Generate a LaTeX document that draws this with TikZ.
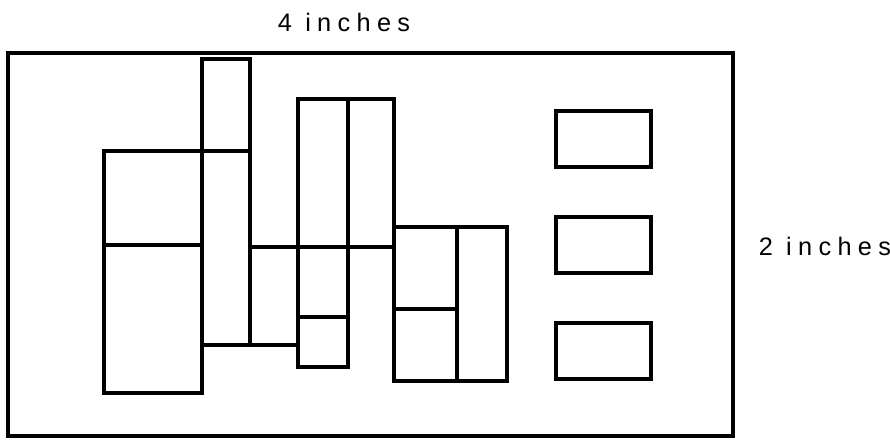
\documentclass[tikz,border=0pt]{standalone}
\usepackage{fontspec}
\setmainfont{Liberation Sans}
\usepackage{tikz}

\begin{document}
\begin{tikzpicture}[x=0.025cm, y=-0.025cm, line width=2.5pt,
    dim/.style={font=\fontsize{18}{20}\selectfont\addfontfeature{LetterSpace=25}}]
        \useasboundingbox (0, 0) rectangle (890, 440);
        \draw (8, 53) rectangle (733, 436);
        % left block
        \draw (104, 151) rectangle (202, 393);
        \draw (104, 245) -- (202, 245);
        \draw (202, 59) rectangle (250, 345);
        \draw (202, 151) -- (250, 151);
        \draw (250, 247) rectangle (298, 345);
        % middle block
        \draw (298, 99) rectangle (348, 367);
        \draw (298, 247) -- (348, 247);
        \draw (298, 317) -- (348, 317);
        \draw (348, 99) rectangle (394, 247);
        \draw (394, 227) rectangle (507, 381);
        \draw (457, 227) -- (457, 381);
        \draw (394, 309) -- (457, 309);
        % right column
        \draw (556, 111) rectangle (651, 167);
        \draw (556, 217) rectangle (651, 273);
        \draw (556, 323) rectangle (651, 379);
        \node (width) at (344, 22) [dim] {4 inches};
        \node (height) at (757, 246) [dim, anchor=west, inner sep=0pt] {2 inches};
    \end{tikzpicture}
\end{document}
